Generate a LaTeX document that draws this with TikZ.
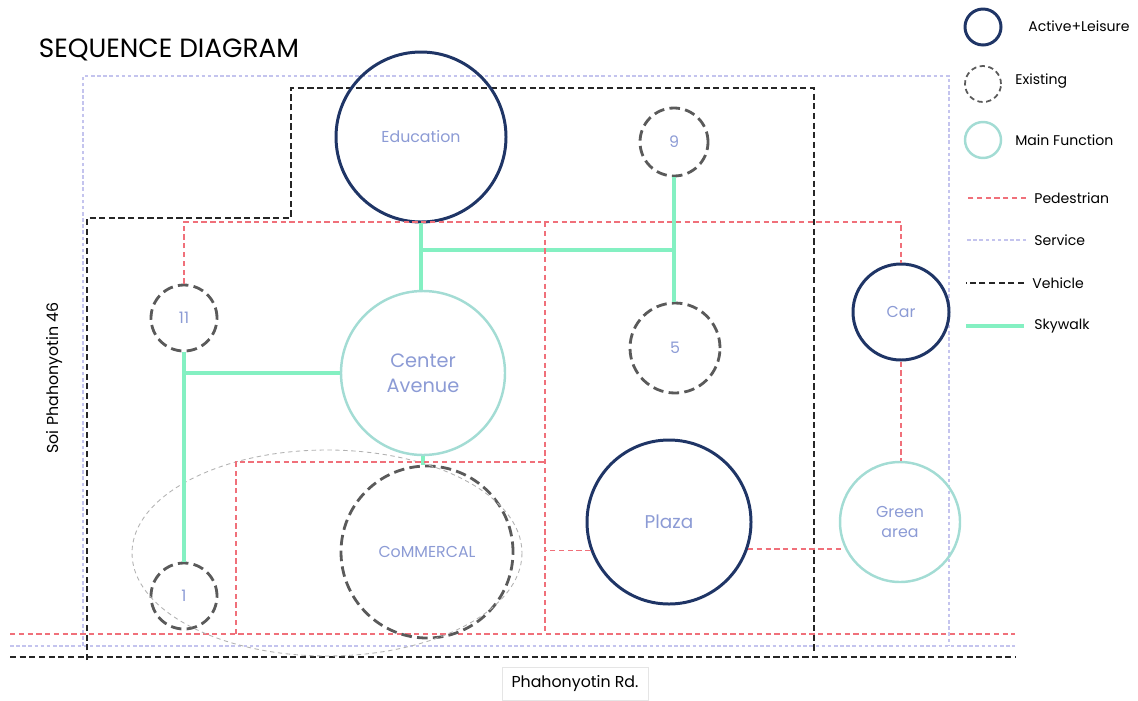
\documentclass[tikz,border=0pt]{standalone}
\usepackage{fontspec}
\setmainfont{Poppins}
\definecolor{navy}{HTML}{1F3566}
\definecolor{exgray}{HTML}{5A5A5A}
\definecolor{mainteal}{HTML}{A3DCD4}
\definecolor{pedred}{HTML}{F0707A}
\definecolor{servblue}{HTML}{C4C4EE}
\definecolor{skygreen}{HTML}{84F0C2}
\definecolor{lbl}{HTML}{8C9BD5}
\tikzset{
  active/.style={circle, draw=navy, line width=1.7pt, minimum size=#1*0.02cm, inner sep=0, text=lbl},
  exist/.style={circle, draw=exgray, line width=1.6pt, dash pattern=on 6pt off 3pt, minimum size=#1*0.02cm, inner sep=0, text=lbl},
  mainf/.style={circle, draw=mainteal, line width=1.4pt, minimum size=#1*0.02cm, inner sep=0, text=lbl},
  ped/.style={draw=pedred, line width=0.8pt, dash pattern=on 3pt off 2pt},
  serv/.style={draw=servblue, line width=0.7pt, dash pattern=on 2pt off 1.5pt},
  veh/.style={draw=black!85, line width=1.4pt, dash pattern=on 3.5pt off 2pt},
  sky/.style={draw=skygreen, line width=2.8pt},
  legtext/.style={anchor=west, inner sep=0, font=\fontsize{8}{10}\selectfont}
}
\begin{document}
\begin{tikzpicture}[x=0.02cm, y=-0.02cm, font=\fontsize{9}{11}\selectfont]
\useasboundingbox (0,0) rectangle (1138,700);
\node[font=\fontsize{15}{17}\selectfont] (title) at (169,50) {SEQUENCE DIAGRAM};
\draw[serv] (83,646) -- (83,76) -- (949,76) -- (949,646);
\draw[serv] (10,646) -- (1015,646);
\draw[ped] (10,634) -- (1015,634);
\draw[veh] (87,660) |- (291,218) |- (814,88) -- (814,652);
\draw[veh] (10,657) -- (1015,657);
\node[active=170] (edu) at (421,137) {Education};
\node[exist=68] (n9) at (674,142) {9};
\node[exist=66] (n11) at (184,318) {11};
\node[mainf=164, align=center, font=\fontsize{11}{14}\selectfont] (cave) at (423,373) {Center\\Avenue};
\node[exist=90] (n5) at (675,348) {5};
\node[active=96] (car) at (901,312) {Car};
\node[active=164, font=\fontsize{10.5}{12}\selectfont] (plaza) at (669,522) {Plaza};
\node[mainf=120, align=center] (green) at (900,522) {Green\\area};
\node[exist=172] (comm) at (427,552) {CoMMERCAL};
\node[exist=66] (n1) at (184,596) {1};
\draw[gray!60, line width=0.5pt, dash pattern=on 2.5pt off 2pt] (327,553) ellipse [x radius=195, y radius=103];
\coordinate (pa) at (545,222);
\coordinate (pb) at (545,634);
\coordinate (j1) at (421,250);
\draw[sky] (edu.south) -- (edu.south |- cave.north);
\draw[sky] (j1) -- (j1 -| n9.south);
\draw[sky] (n9.south) -- (n9.south |- n5.north);
\draw[sky] (n11.south) -- (n11.south |- n1.north);
\draw[sky] (n11.south |- cave.west) -- (cave.west);
\draw[sky] (cave.south) -- (cave.south |- comm.north);
\draw[ped] (n11.north) -- (n11.north |- pa) -- (car.north |- pa) -- (car.north);
\draw[ped] (pa) -- (pb);
\draw[ped] (236,634) |- (545,462);
\draw[ped] (plaza.200) -- (plaza.200 -| pa);
\draw[ped] (plaza.-19) -- (plaza.-19 -| green.205);
\draw[ped] (car.south) -- (car.south |- green.north);
\node[rotate=90] (soi) at (55,378) {Soi Phahonyotin 46};
\node[draw=gray!20, minimum width=146*0.02cm, minimum height=33*0.02cm] (rd) at (575,684) {Phahonyotin Rd.};
\node[active=36] (lact) at (983,27) {};
\node[legtext] (tact) at (1028,26) {Active+Leisure};
\node[exist=36, line width=1pt, dash pattern=on 3pt off 2pt] (lexi) at (983,84) {};
\node[legtext] (texi) at (1015,81) {Existing};
\node[mainf=36] (lmain) at (983,140) {};
\node[legtext] (tmain) at (1015,140) {Main Function};
\node[legtext] (tped) at (1034,198) {Pedestrian};
\node[legtext] (tserv) at (1034,240) {Service};
\node[legtext] (tveh) at (1032,283) {Vehicle};
\node[legtext] (tsky) at (1034,326) {Skywalk};
\draw[ped] (tped.west) ++(-8,0) -- ++(-60,0);
\draw[serv] (tserv.west) ++(-8,0) -- ++(-60,0);
\draw[veh] (tveh.west) ++(-8,0) -- ++(-58,0);
\draw[sky] (tsky.west) ++(-10,0) -- ++(-58,0);
\end{tikzpicture}
\end{document}
